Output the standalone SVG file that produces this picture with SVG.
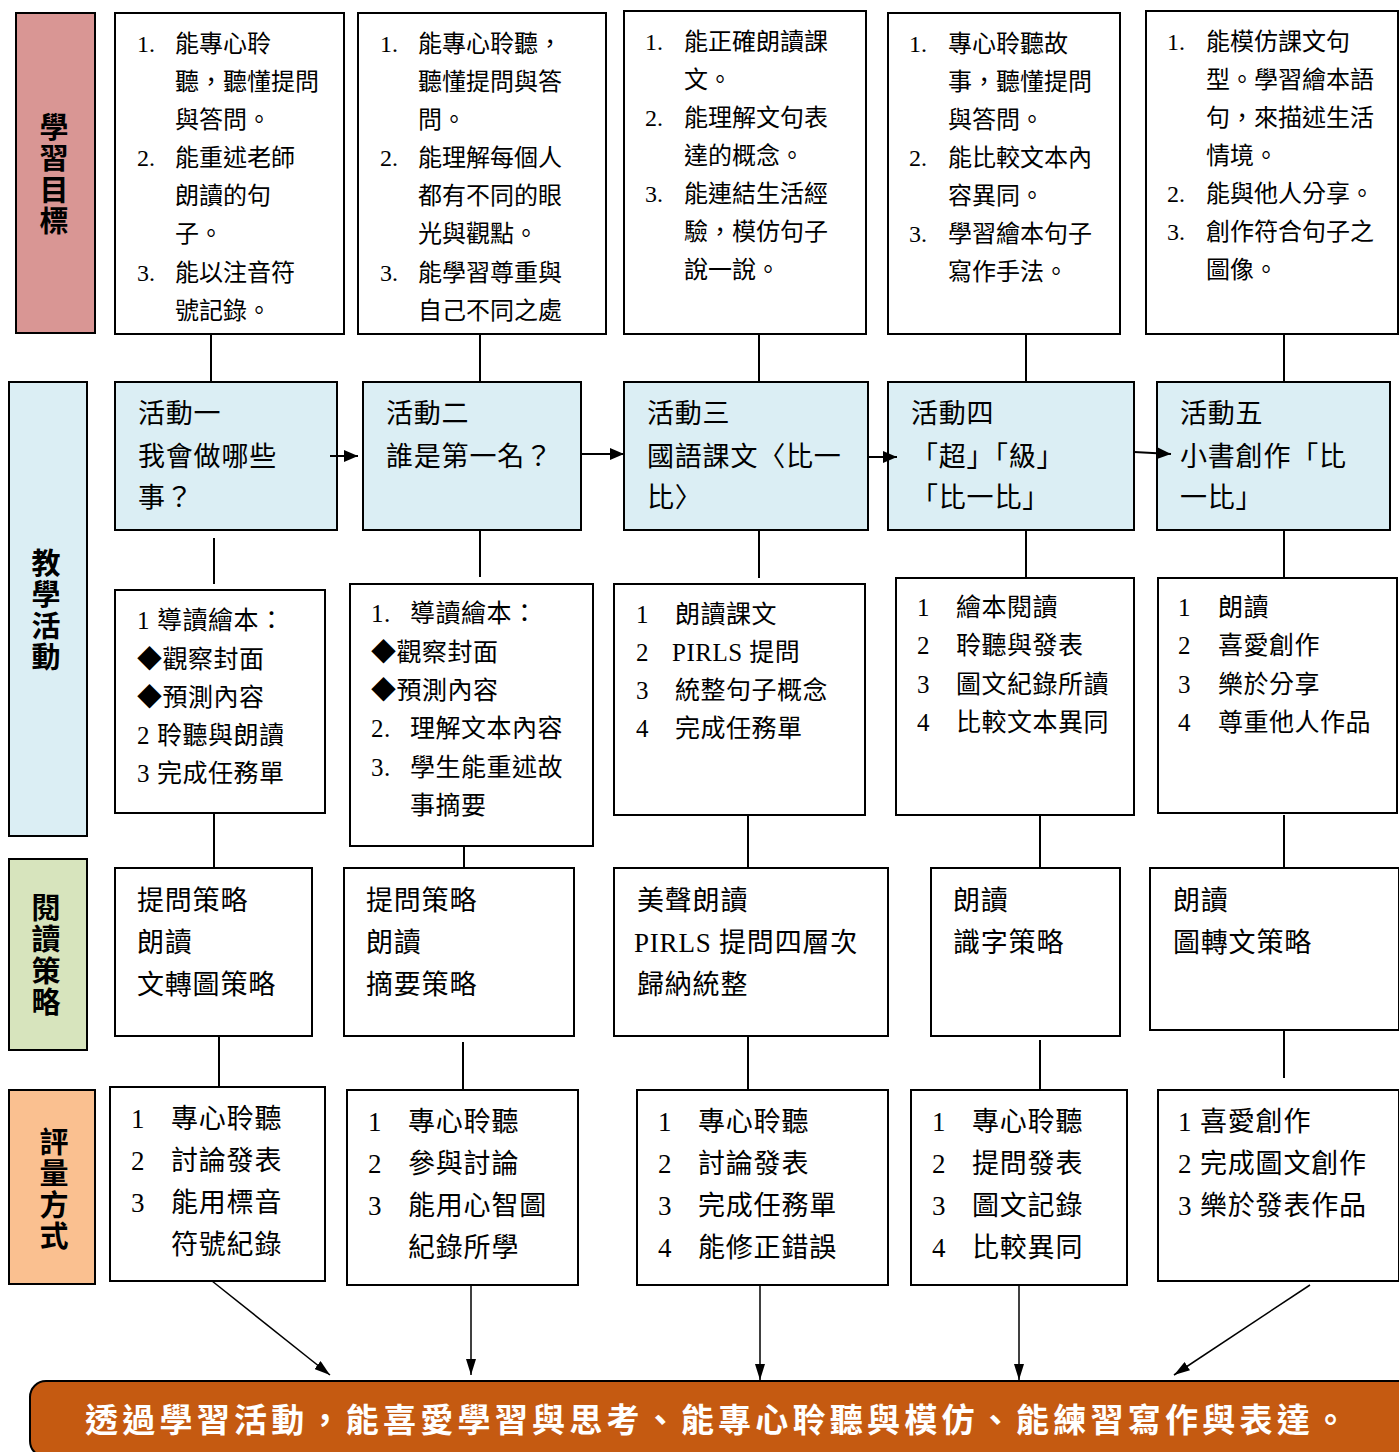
<svg xmlns="http://www.w3.org/2000/svg" width="1399" height="1452" viewBox="0 0 1399 1452">
<style>
.box{fill:#fff;stroke:#000;stroke-width:2}
.act{fill:#dbeef4;stroke:#000;stroke-width:2}
.t{font-family:"Liberation Serif","Noto Sans CJK TC",serif;fill:#000}
.s24{font-size:24px}
.s25{font-size:25px;letter-spacing:0.5px}
.s27{font-size:27px;letter-spacing:0.8px}
.cat{font-family:"Noto Sans CJK TC",sans-serif;font-size:29px;font-weight:bold;fill:#000;writing-mode:vertical-rl;letter-spacing:2.5px}
.ln{stroke:#000;stroke-width:2;fill:none}
.la{stroke:#000;stroke-width:1.5;fill:none}
.fin{font-family:"Noto Sans CJK TC",sans-serif;font-size:33px;font-weight:bold;fill:#fff}
</style>
<defs>
<marker id="ah" markerUnits="userSpaceOnUse" markerWidth="14" markerHeight="12" refX="14" refY="6" orient="auto"><path d="M0,0 L14,6 L0,12 z" fill="#000"/></marker>
<marker id="ab" markerUnits="userSpaceOnUse" markerWidth="16" markerHeight="10" refX="16" refY="5" orient="auto"><path d="M0,0 L16,5 L0,10 z" fill="#000"/></marker>
</defs>
<rect width="1399" height="1452" fill="#fff"/>

<!-- category labels -->
<g id="cat-goal">
<rect x="16" y="13" width="79" height="320" fill="#d99694" stroke="#000" stroke-width="2"/>
<text class="cat" x="54" y="112">學習目標</text>
</g>
<g id="cat-teach">
<rect x="9" y="382" width="78" height="454" fill="#dbeef4" stroke="#000" stroke-width="2"/>
<text class="cat" x="46" y="548">教學活動</text>
</g>
<g id="cat-read">
<rect x="9" y="859" width="78" height="191" fill="#d7e4bd" stroke="#000" stroke-width="2"/>
<text class="cat" x="46" y="893">閱讀策略</text>
</g>
<g id="cat-assess">
<rect x="9" y="1090" width="86" height="194" fill="#fac090" stroke="#000" stroke-width="2"/>
<text class="cat" x="54" y="1127">評量方式</text>
</g>

<!-- row 1: goals -->
<g id="goal1">
<rect class="box" x="115" y="13" width="229" height="321"/>
<text class="t s24"><tspan x="137" y="52">1.</tspan><tspan x="175">能專心聆</tspan><tspan x="175" y="90">聽，聽懂提問</tspan><tspan x="175" y="128">與答問。</tspan><tspan x="137" y="166">2.</tspan><tspan x="175">能重述老師</tspan><tspan x="175" y="204">朗讀的句</tspan><tspan x="175" y="242">子。</tspan><tspan x="137" y="281">3.</tspan><tspan x="175">能以注音符</tspan><tspan x="175" y="319">號記錄。</tspan></text>
</g>
<g id="goal2">
<rect class="box" x="358" y="13" width="248" height="321"/>
<text class="t s24"><tspan x="380" y="52">1.</tspan><tspan x="418">能專心聆聽，</tspan><tspan x="418" y="90">聽懂提問與答</tspan><tspan x="418" y="128">問。</tspan><tspan x="380" y="166">2.</tspan><tspan x="418">能理解每個人</tspan><tspan x="418" y="204">都有不同的眼</tspan><tspan x="418" y="242">光與觀點。</tspan><tspan x="380" y="281">3.</tspan><tspan x="418">能學習尊重與</tspan><tspan x="418" y="319">自己不同之處</tspan></text>
</g>
<g id="goal3">
<rect class="box" x="624" y="11" width="242" height="323"/>
<text class="t s24"><tspan x="645" y="50">1.</tspan><tspan x="684">能正確朗讀課</tspan><tspan x="684" y="88">文。</tspan><tspan x="645" y="126">2.</tspan><tspan x="684">能理解文句表</tspan><tspan x="684" y="164">達的概念。</tspan><tspan x="645" y="202">3.</tspan><tspan x="684">能連結生活經</tspan><tspan x="684" y="240">驗，模仿句子</tspan><tspan x="684" y="278">說一說。</tspan></text>
</g>
<g id="goal4">
<rect class="box" x="888" y="13" width="232" height="321"/>
<text class="t s24"><tspan x="909" y="52">1.</tspan><tspan x="948">專心聆聽故</tspan><tspan x="948" y="90">事，聽懂提問</tspan><tspan x="948" y="128">與答問。</tspan><tspan x="909" y="166">2.</tspan><tspan x="948">能比較文本內</tspan><tspan x="948" y="204">容異同。</tspan><tspan x="909" y="242">3.</tspan><tspan x="948">學習繪本句子</tspan><tspan x="948" y="280">寫作手法。</tspan></text>
</g>
<g id="goal5">
<rect class="box" x="1146" y="11" width="252" height="323"/>
<text class="t s24"><tspan x="1167" y="50">1.</tspan><tspan x="1206">能模仿課文句</tspan><tspan x="1206" y="88">型。學習繪本語</tspan><tspan x="1206" y="126">句，來描述生活</tspan><tspan x="1206" y="164">情境。</tspan><tspan x="1167" y="202">2.</tspan><tspan x="1206">能與他人分享。</tspan><tspan x="1167" y="240">3.</tspan><tspan x="1206">創作符合句子之</tspan><tspan x="1206" y="278">圖像。</tspan></text>
</g>

<!-- activities -->
<g id="act1">
<rect class="act" x="115" y="382" width="222" height="148"/>
<text class="t s27"><tspan x="138" y="423">活動一</tspan><tspan x="138" y="466">我會做哪些</tspan><tspan x="138" y="507">事？</tspan></text>
</g>
<g id="act2">
<rect class="act" x="363" y="382" width="218" height="148"/>
<text class="t s27"><tspan x="386" y="423">活動二</tspan><tspan x="386" y="466">誰是第一名？</tspan></text>
</g>
<g id="act3">
<rect class="act" x="624" y="382" width="244" height="148"/>
<text class="t s27"><tspan x="647" y="423">活動三</tspan><tspan x="647" y="466">國語課文〈比一</tspan><tspan x="647" y="507">比〉</tspan></text>
</g>
<g id="act4">
<rect class="act" x="888" y="382" width="246" height="148"/>
<text class="t s27"><tspan x="911" y="423">活動四</tspan><tspan x="911" y="466">「超」「級」</tspan><tspan x="911" y="507">「比一比」</tspan></text>
</g>
<g id="act5">
<rect class="act" x="1157" y="382" width="233" height="148"/>
<text class="t s27"><tspan x="1180" y="423">活動五</tspan><tspan x="1180" y="466">小書創作「比</tspan><tspan x="1180" y="507">一比」</tspan></text>
</g>

<!-- activity details -->
<g id="det1">
<rect class="box" x="115" y="590" width="210" height="223"/>
<text class="t s25"><tspan x="137" y="629">1</tspan><tspan x="157">導讀繪本：</tspan><tspan x="137" y="668">◆觀察封面</tspan><tspan x="137" y="706">◆預測內容</tspan><tspan x="137" y="744">2</tspan><tspan x="157">聆聽與朗讀</tspan><tspan x="137" y="782">3</tspan><tspan x="157">完成任務單</tspan></text>
</g>
<g id="det2">
<rect class="box" x="350" y="584" width="243" height="262"/>
<text class="t s25"><tspan x="371" y="622">1.</tspan><tspan x="410">導讀繪本：</tspan><tspan x="371" y="661">◆觀察封面</tspan><tspan x="371" y="699">◆預測內容</tspan><tspan x="371" y="737">2.</tspan><tspan x="410">理解文本內容</tspan><tspan x="371" y="776">3.</tspan><tspan x="410">學生能重述故</tspan><tspan x="410" y="814">事摘要</tspan></text>
</g>
<g id="det3">
<rect class="box" x="614" y="584" width="251" height="231"/>
<text class="t s25"><tspan x="636" y="623">1</tspan><tspan x="675">朗讀課文</tspan><tspan x="636" y="661">2</tspan><tspan x="672">PIRLS 提問</tspan><tspan x="636" y="699">3</tspan><tspan x="675">統整句子概念</tspan><tspan x="636" y="737">4</tspan><tspan x="675">完成任務單</tspan></text>
</g>
<g id="det4">
<rect class="box" x="896" y="578" width="238" height="237"/>
<text class="t s25"><tspan x="917" y="616">1</tspan><tspan x="956">繪本閱讀</tspan><tspan x="917" y="654">2</tspan><tspan x="956">聆聽與發表</tspan><tspan x="917" y="693">3</tspan><tspan x="956">圖文紀錄所讀</tspan><tspan x="917" y="731">4</tspan><tspan x="956">比較文本異同</tspan></text>
</g>
<g id="det5">
<rect class="box" x="1158" y="578" width="239" height="235"/>
<text class="t s25"><tspan x="1178" y="616">1</tspan><tspan x="1218">朗讀</tspan><tspan x="1178" y="654">2</tspan><tspan x="1218">喜愛創作</tspan><tspan x="1178" y="693">3</tspan><tspan x="1218">樂於分享</tspan><tspan x="1178" y="731">4</tspan><tspan x="1218">尊重他人作品</tspan></text>
</g>

<!-- reading strategies -->
<g id="str1">
<rect class="box" x="115" y="868" width="197" height="168"/>
<text class="t s27"><tspan x="137" y="910">提問策略</tspan><tspan x="137" y="952">朗讀</tspan><tspan x="137" y="994">文轉圖策略</tspan></text>
</g>
<g id="str2">
<rect class="box" x="344" y="868" width="230" height="168"/>
<text class="t s27"><tspan x="366" y="910">提問策略</tspan><tspan x="366" y="952">朗讀</tspan><tspan x="366" y="994">摘要策略</tspan></text>
</g>
<g id="str3">
<rect class="box" x="614" y="868" width="274" height="168"/>
<text class="t s27"><tspan x="637" y="910">美聲朗讀</tspan><tspan x="634" y="952">PIRLS 提問四層次</tspan><tspan x="637" y="994">歸納統整</tspan></text>
</g>
<g id="str4">
<rect class="box" x="931" y="868" width="189" height="168"/>
<text class="t s27"><tspan x="953" y="910">朗讀</tspan><tspan x="953" y="952">識字策略</tspan></text>
</g>
<g id="str5">
<rect class="box" x="1150" y="868" width="249" height="162"/>
<text class="t s27"><tspan x="1173" y="910">朗讀</tspan><tspan x="1173" y="952">圖轉文策略</tspan></text>
</g>

<!-- assessments -->
<g id="as1">
<rect class="box" x="110" y="1087" width="215" height="194"/>
<text class="t s27"><tspan x="131" y="1128">1</tspan><tspan x="171">專心聆聽</tspan><tspan x="131" y="1170">2</tspan><tspan x="171">討論發表</tspan><tspan x="131" y="1212">3</tspan><tspan x="171">能用標音</tspan><tspan x="171" y="1254">符號紀錄</tspan></text>
</g>
<g id="as2">
<rect class="box" x="347" y="1090" width="231" height="195"/>
<text class="t s27"><tspan x="368" y="1131">1</tspan><tspan x="408">專心聆聽</tspan><tspan x="368" y="1173">2</tspan><tspan x="408">參與討論</tspan><tspan x="368" y="1215">3</tspan><tspan x="408">能用心智圖</tspan><tspan x="408" y="1257">紀錄所學</tspan></text>
</g>
<g id="as3">
<rect class="box" x="637" y="1090" width="251" height="195"/>
<text class="t s27"><tspan x="658" y="1131">1</tspan><tspan x="698">專心聆聽</tspan><tspan x="658" y="1173">2</tspan><tspan x="698">討論發表</tspan><tspan x="658" y="1215">3</tspan><tspan x="698">完成任務單</tspan><tspan x="658" y="1257">4</tspan><tspan x="698">能修正錯誤</tspan></text>
</g>
<g id="as4">
<rect class="box" x="911" y="1090" width="216" height="195"/>
<text class="t s27"><tspan x="932" y="1131">1</tspan><tspan x="972">專心聆聽</tspan><tspan x="932" y="1173">2</tspan><tspan x="972">提問發表</tspan><tspan x="932" y="1215">3</tspan><tspan x="972">圖文記錄</tspan><tspan x="932" y="1257">4</tspan><tspan x="972">比較異同</tspan></text>
</g>
<g id="as5">
<rect class="box" x="1158" y="1090" width="241" height="191"/>
<text class="t s27"><tspan x="1178" y="1131">1</tspan><tspan x="1200">喜愛創作</tspan><tspan x="1178" y="1173">2</tspan><tspan x="1200">完成圖文創作</tspan><tspan x="1178" y="1215">3</tspan><tspan x="1200">樂於發表作品</tspan></text>
</g>

<!-- final outcome -->
<g id="outcome">
<rect x="30" y="1381" width="1385" height="76" rx="16" ry="16" fill="#c55a11" stroke="#000" stroke-width="2"/>
<text class="fin" x="85" y="1432" textLength="1262" lengthAdjust="spacing">透過學習活動，能喜愛學習與思考、能專心聆聽與模仿、能練習寫作與表達。</text>
</g>

<!-- connectors -->
<g id="connectors">
<line class="ln" x1="211" y1="334" x2="211" y2="382"/>
<line class="ln" x1="480" y1="334" x2="480" y2="382"/>
<line class="ln" x1="759" y1="334" x2="759" y2="382"/>
<line class="ln" x1="1026" y1="334" x2="1026" y2="382"/>
<line class="ln" x1="1284" y1="334" x2="1284" y2="382"/>

<line class="ln" x1="330" y1="456" x2="358" y2="456" marker-end="url(#ah)"/>
<line class="ln" x1="581" y1="454" x2="624" y2="454" marker-end="url(#ah)"/>
<line class="ln" x1="868" y1="457" x2="897" y2="457" marker-end="url(#ah)"/>
<line class="ln" x1="1134" y1="452" x2="1171" y2="454" marker-end="url(#ah)"/>

<line class="ln" x1="214" y1="538" x2="214" y2="584"/>
<line class="ln" x1="480" y1="530" x2="480" y2="577"/>
<line class="ln" x1="759" y1="530" x2="759" y2="578"/>
<line class="ln" x1="1026" y1="530" x2="1026" y2="578"/>
<line class="ln" x1="1284" y1="530" x2="1284" y2="578"/>

<line class="ln" x1="214" y1="813" x2="214" y2="868"/>
<line class="ln" x1="464" y1="846" x2="464" y2="868"/>
<line class="ln" x1="748" y1="815" x2="748" y2="868"/>
<line class="ln" x1="1040" y1="815" x2="1040" y2="868"/>
<line class="ln" x1="1284" y1="815" x2="1284" y2="868"/>

<line class="ln" x1="219" y1="1036" x2="219" y2="1087"/>
<line class="ln" x1="463" y1="1042" x2="463" y2="1090"/>
<line class="ln" x1="748" y1="1036" x2="748" y2="1090"/>
<line class="ln" x1="1040" y1="1040" x2="1040" y2="1090"/>
<line class="ln" x1="1284" y1="1030" x2="1284" y2="1078"/>

<line class="la" x1="212" y1="1281" x2="330" y2="1375" marker-end="url(#ab)"/>
<line class="la" x1="471" y1="1285" x2="471" y2="1375" marker-end="url(#ab)"/>
<line class="la" x1="760" y1="1285" x2="760" y2="1380" marker-end="url(#ab)"/>
<line class="la" x1="1019" y1="1285" x2="1019" y2="1380" marker-end="url(#ab)"/>
<line class="la" x1="1310" y1="1285" x2="1174" y2="1375" marker-end="url(#ab)"/>
</g>
</svg>
